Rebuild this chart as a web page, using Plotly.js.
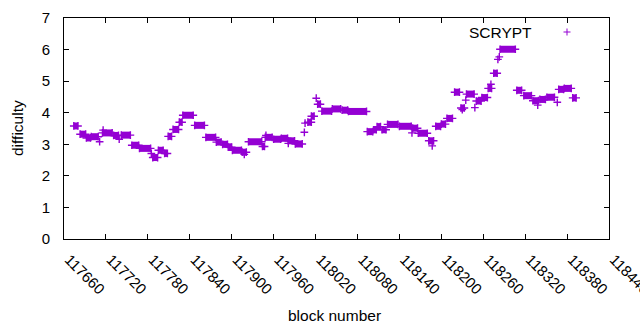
<!DOCTYPE html>
<html>
<head>
<meta charset="utf-8">
<script src="https://cdn.plot.ly/plotly-3.0.1.min.js"></script>
<style>html,body{margin:0;padding:0;background:#fff;}#chart{width:640px;height:330px;}</style>
</head>
<body>
<div id="chart"></div>
<script>
// Difficulty runs: block range [start, end] with constant difficulty
const seriesName = "SCRYPT";
const runStart = [117674,117683,117692,117699,117711,117715,117716,117731,117739,117742,117757,117768,117785,117787,117795,117804,117809,117816,117825,117830,117847,117863,117878,117887,117895,117901,117915,117918,117924,117944,117948,117949,117960,117971,117981,117981,117991,118004,118005,118009,118014,118021,118023,118029,118044,118058,118067,118094,118103,118108,118115,118123,118140,118158,118159,118167,118182,118187,118192,118200,118208,118219,118228,118230,118235,118236,118248,118250,118258,118267,118271,118275,118281,118283,118284,118308,118318,118331,118338,118341,118351,118366,118368,118376,118388];
const runEnd   = [117680,117691,117698,117709,117711,117729,117716,117738,117739,117755,117767,117784,117785,117794,117802,117808,117814,117824,117829,117845,117861,117877,117885,117894,117900,117914,117921,117918,117943,117947,117958,117949,117970,117980,117990,117981,118001,118004,118005,118014,118018,118021,118027,118043,118056,118066,118093,118102,118107,118113,118121,118138,118157,118158,118166,118180,118189,118187,118199,118206,118216,118226,118233,118230,118235,118247,118248,118257,118266,118272,118271,118280,118281,118283,118306,118315,118329,118339,118338,118349,118362,118366,118375,118386,118393];
const runValue = [3.58,3.32,3.20,3.24,3.08,3.36,3.45,3.28,3.16,3.29,2.97,2.87,2.71,2.58,2.81,2.71,3.25,3.47,3.70,3.92,3.60,3.22,3.07,3.00,2.91,2.81,2.75,2.68,3.08,2.93,3.22,3.28,3.16,3.19,3.11,3.03,3.01,3.38,3.67,3.70,3.89,4.46,4.27,4.05,4.12,4.08,4.04,3.40,3.46,3.56,3.46,3.63,3.57,3.36,3.51,3.35,3.11,2.95,3.57,3.64,3.82,4.65,4.15,4.10,4.40,4.59,4.16,4.37,4.48,4.77,4.90,5.25,5.69,5.77,6.01,4.71,4.54,4.38,4.24,4.42,4.49,4.33,4.74,4.77,4.47];

const xRange = [117660, 118440];
const yRange = [0, 7];
const color = "#9400D3";
const font = "Liberation Sans, Arial, sans-serif";

// build traces from the runs
const lx = [], ly = [], mx = [], my = [];
for (let i = 0; i < runStart.length; i++) {
  if (runEnd[i] > runStart[i]) {
    lx.push(runStart[i], runEnd[i], null);
    ly.push(runValue[i], runValue[i], null);
    mx.push(runStart[i], runEnd[i]);
    my.push(runValue[i], runValue[i]);
  } else {
    mx.push(runStart[i]);
    my.push(runValue[i]);
  }
}

const traces = [
  {x: lx, y: ly, mode: "lines", type: "scatter", showlegend: false,
   line: {color: color, width: 7}, hoverinfo: "skip"},
  {x: mx, y: my, mode: "markers", type: "scatter", name: seriesName, showlegend: false,
   marker: {symbol: "cross-thin", size: 5.5, color: color, line: {color: color, width: 1.4}}}
];

const L = 64, R = 609, T = 18, B = 239;
const px2x = p => (p - L) / (R - L);
const py2y = p => (B - p) / (B - T);

const layout = {
  width: 640, height: 330,
  margin: {l: L, r: 640 - R, t: T, b: 330 - B, pad: 0},
  paper_bgcolor: "#fff", plot_bgcolor: "#fff",
  font: {family: font, size: 15, color: "#000"},
  showlegend: false,
  xaxis: {
    range: xRange, tick0: 117660, dtick: 60, tickformat: "d",
    tickangle: 45, ticks: "inside", ticklen: 5, tickcolor: "#000", tickwidth: 1,
    showline: true, linecolor: "#000", linewidth: 1, mirror: "ticks",
    showgrid: false, zeroline: false, ticklabelstandoff: 5, ticklabelshift: 5,
    ticklabeloverflow: "allow",
    tickfont: {family: font, size: 15, color: "#000"}
  },
  yaxis: {
    range: yRange, dtick: 1, tick0: 0,
    ticks: "inside", ticklen: 5, tickcolor: "#000", tickwidth: 1,
    showline: true, linecolor: "#000", linewidth: 1, mirror: "ticks",
    showgrid: false, zeroline: false, ticklabelstandoff: 10,
    tickfont: {family: font, size: 15, color: "#000"}
  },
  annotations: [
    {text: "block number", xref: "paper", yref: "paper", x: px2x(334), y: py2y(315),
     xanchor: "center", yanchor: "middle", showarrow: false, font: {family: font, size: 15.5, color: "#000"}},
    {text: "difficulty", xref: "paper", yref: "paper", x: px2x(17), y: py2y(128),
     xanchor: "center", yanchor: "middle", textangle: -90, showarrow: false, font: {family: font, size: 15.5, color: "#000"}},
    {text: seriesName, xref: "paper", yref: "paper", x: px2x(534), y: py2y(32),
     xanchor: "right", yanchor: "middle", showarrow: false, font: {family: font, size: 15.5, color: "#000"}}
  ],
  shapes: [
    {type: "line", xref: "paper", yref: "paper", xsizemode: "pixel", ysizemode: "pixel",
     xanchor: px2x(567), yanchor: py2y(32), x0: -3.5, x1: 3.5, y0: 0, y1: 0, line: {color: color, width: 1}},
    {type: "line", xref: "paper", yref: "paper", xsizemode: "pixel", ysizemode: "pixel",
     xanchor: px2x(567), yanchor: py2y(32), x0: 0, x1: 0, y0: -3.5, y1: 3.5, line: {color: color, width: 1}}
  ]
};

Plotly.newPlot("chart", traces, layout, {displayModeBar: false, staticPlot: true});
</script>
</body>
</html>
